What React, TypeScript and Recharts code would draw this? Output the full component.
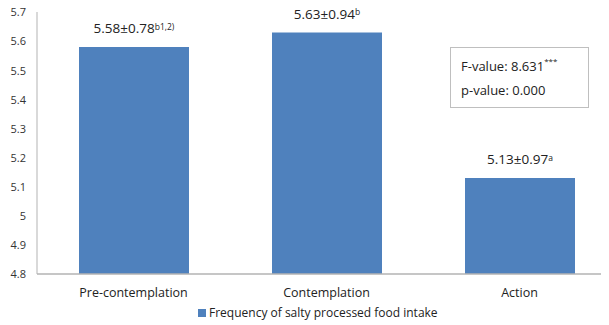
import React from "react";
import { BarChart, Bar, XAxis, YAxis, LabelList } from "recharts";

const categories = ["Pre-contemplation", "Contemplation", "Action"];
const means = [5.58, 5.63, 5.13];
const sds = [0.78, 0.94, 0.97];
const letters = ["b1,2)", "b", "a"];
const yTicks = [4.8, 4.9, 5, 5.1, 5.2, 5.3, 5.4, 5.5, 5.6, 5.7];
const seriesName = "Frequency of salty processed food intake";
const fValue = "8.631";
const fStars = "***";
const pValue = "0.000";

const data = categories.map((c, i) => ({ name: c, value: means[i], sd: sds[i], letter: letters[i] }));

const FONT = "'Open Sans', sans-serif";

const ValueLabel = (props: any) => {
  const { x, y, width, index } = props;
  const d = data[index];
  const cx = x + width / 2;
  return (
    <text x={cx} y={y - 13.5} textAnchor="middle" fontFamily={FONT} fontSize={13.5} fill="#222">
      <tspan>{`${d.value.toFixed(2)}±${d.sd.toFixed(2)}`}</tspan>
      <tspan fontSize={8.5} dy={-3.5}>{d.letter}</tspan>
    </text>
  );
};

const YTick = (props: any) => {
  const { y, payload } = props;
  return (
    <text x={18} y={y} dy={4.3} textAnchor="end" fontFamily={FONT} fontSize={11} fill="#333">
      {String(payload.value)}
    </text>
  );
};

export default function App() {
  return (
    <div style={{ position: "relative", width: 601, height: 317, overflow: "hidden", fontFamily: FONT }}>
      <BarChart width={622} height={317} data={data} margin={{ top: 4, right: 14, bottom: 0, left: 0 }}>
        <YAxis
          domain={[4.8, 5.7]}
          ticks={yTicks}
          interval={0}
          width={29}
          tickSize={0}
          tickMargin={10}
          axisLine={{ stroke: "#b3b3b3" }}
          tickLine={false}
          tick={<YTick />}
          allowDataOverflow
        />
        <XAxis
          dataKey="name"
          height={51}
          tickSize={0}
          tickMargin={14}
          axisLine={{ stroke: "#b3b3b3", strokeWidth: 1.5 }}
          tickLine={false}
          tick={{ fontFamily: FONT, fontSize: 12.5, fill: "#222" }}
        />
        <Bar dataKey="value" fill="#4f81bd" barSize={110} isAnimationActive={false}>
          <LabelList dataKey="value" content={ValueLabel} />
        </Bar>
      </BarChart>
      <div
        style={{
          position: "absolute",
          left: 442,
          top: 39,
          width: 139,
          height: 61,
          border: "1px solid #bfbfbf",
          background: "#fff",
          fontSize: 13,
          color: "#222",
          boxSizing: "border-box",
          padding: "6px 0 0 10px",
          lineHeight: "24px",
        }}
      >
        <div>
          F-value: {fValue}
          <sup style={{ fontSize: 8, verticalAlign: "top", lineHeight: "14px" }}>{fStars}</sup>
        </div>
        <div>p-value: {pValue}</div>
      </div>
      <div
        style={{
          position: "absolute",
          left: 190,
          top: 296,
          display: "flex",
          alignItems: "center",
          fontSize: 12,
          color: "#222",
          whiteSpace: "nowrap",
        }}
      >
        <span style={{ display: "inline-block", width: 8, height: 8, background: "#4f81bd", marginRight: 3 }} />
        <span>{seriesName}</span>
      </div>
    </div>
  );
}
